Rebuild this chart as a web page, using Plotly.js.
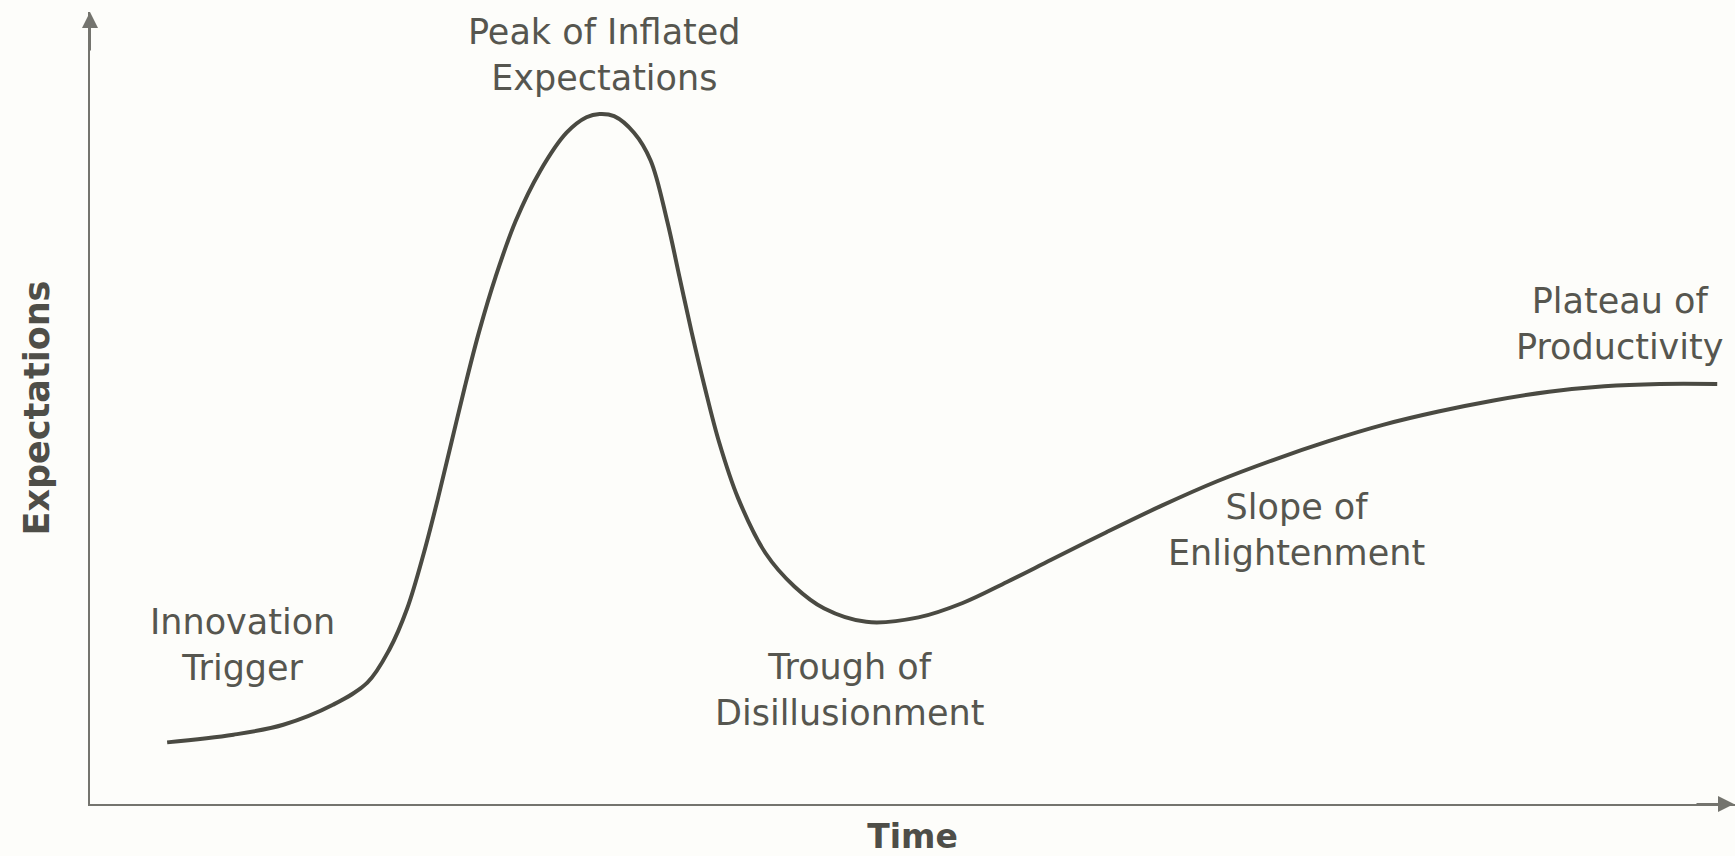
<!DOCTYPE html>
<html>
<head>
<meta charset="utf-8">
<script src="https://cdn.plot.ly/plotly-3.0.1.min.js"></script>
<style>html,body{margin:0;padding:0;background:#fdfdfa;}#chart{width:1735px;height:856px;}</style>
</head>
<body>
<div id="chart"></div>
<script>
// Hype cycle curve (time vs expectations, arbitrary units 0-100)
const time = [4.69, 8.72, 11.75, 14.77, 16.86, 18.20, 19.28, 20.29, 21.16, 21.97, 22.78, 23.65, 24.66, 25.87, 27.35, 28.97, 30.18, 30.98, 31.86, 33.07, 34.08, 35.09, 35.83, 36.57, 37.37, 38.25, 39.39, 41.07, 42.82, 44.64, 47.19, 50.36, 53.05, 55.74, 58.43, 61.79, 65.15, 68.52, 71.88, 75.24, 78.60, 81.97, 85.33, 88.69, 92.06, 95.42, 98.92];
const expectations = [7.78, 8.75, 10.01, 12.53, 15.32, 19.51, 24.68, 31.66, 38.65, 45.64, 52.62, 59.61, 66.59, 73.58, 79.87, 84.76, 86.71, 87.13, 86.85, 84.76, 81.26, 73.58, 66.59, 59.61, 52.62, 45.64, 38.65, 31.66, 27.47, 24.68, 23.00, 23.56, 25.38, 28.03, 30.83, 34.32, 37.67, 40.75, 43.40, 45.78, 47.87, 49.55, 50.95, 52.06, 52.76, 53.04, 53.04];

// Phase labels
const phaseLabels = ["Innovation<br>Trigger", "Peak of Inflated<br>Expectations", "Trough of<br>Disillusionment", "Slope of<br>Enlightenment", "Plateau of<br>Productivity"];
const phaseX = [9.30, 31.25, 46.20, 73.37, 93.0];
const phaseY = [20.08, 94.6, 14.39, 34.60, 60.6];

const xTitle = "Time";
const yTitle = "Expectations";

const textColor = "#56564f";
const lineColor = "#4a4a42";
const axisColor = "#74746e";

const annotations = phaseLabels.map((t, i) => ({
  x: phaseX[i], y: phaseY[i], xref: "x", yref: "y",
  text: t, showarrow: false, xanchor: "center", yanchor: "middle",
  font: {family: "DejaVu Sans", size: 35, color: textColor}
}));
// axis arrowheads
annotations.push({x: 0, y: 1, xref: "paper", yref: "paper", text: "", showarrow: true,
  ax: 0, ay: 40, arrowhead: 2, arrowsize: 1.6, arrowwidth: 2, arrowcolor: axisColor});
annotations.push({x: 1, y: 0, xref: "paper", yref: "paper", text: "", showarrow: true,
  ax: -40, ay: 0, arrowhead: 2, arrowsize: 1.6, arrowwidth: 2, arrowcolor: axisColor});

const data = [{
  x: time, y: expectations, type: "scatter", mode: "lines",
  line: {color: lineColor, width: 4, shape: "spline", smoothing: 1},
  hoverinfo: "skip"
}];

const layout = {
  width: 1735, height: 856,
  margin: {l: 90, r: 0, t: 12, b: 52},
  paper_bgcolor: "#fdfdfa", plot_bgcolor: "#fdfdfa",
  showlegend: false,
  xaxis: {range: [0, 100], showline: true, linecolor: axisColor, linewidth: 2,
    showgrid: false, zeroline: false, showticklabels: false, ticks: "",
    title: {text: xTitle, standoff: 22, font: {family: "DejaVu Sans", size: 33, color: "#4e4e48", weight: "bold"}}},
  yaxis: {range: [0, 100], showline: true, linecolor: axisColor, linewidth: 2,
    showgrid: false, zeroline: false, showticklabels: false, ticks: "",
    title: {text: yTitle, standoff: 28, font: {family: "DejaVu Sans", size: 35, color: "#4e4e48", weight: "bold"}}},
  annotations: annotations
};

Plotly.newPlot("chart", data, layout, {displayModeBar: false, staticPlot: true});
</script>
</body>
</html>
